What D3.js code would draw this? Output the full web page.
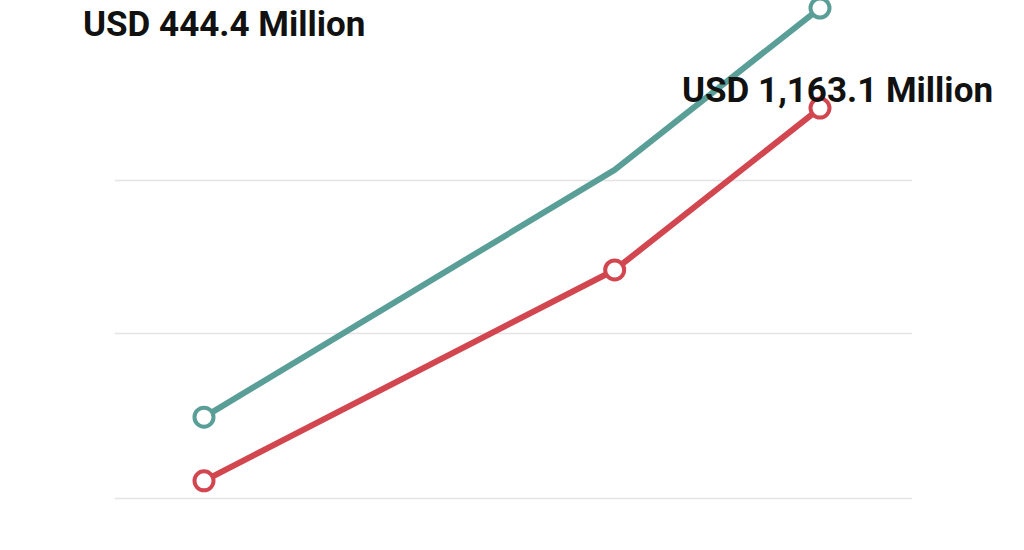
<!DOCTYPE html>
<html>
<head>
<meta charset="utf-8">
<script src="https://cdn.jsdelivr.net/npm/d3@7"></script>
<style>
  html, body { margin: 0; padding: 0; background: #ffffff; }
  svg { display: block; }
</style>
</head>
<body>
<div id="chart"></div>
<script>
// ---- data ----
const years = [2024, 2028, 2030];
const seriesTeal = [245, 1033, 1562];
const seriesRed = [52, 706, 1235];
const gridValues = [0, 500, 1000];
const labelTexts = ["USD 444.4 Million", "USD 1,163.1 Million"];

const W = 1024, H = 550;
const colors = { teal: "#5a9e98", red: "#d2464f" };

const svg = d3.select("#chart").append("svg")
  .attr("width", W).attr("height", H);

const x = d3.scaleLinear().domain([years[0], years[years.length - 1]]).range([204, 820]);
const y = d3.scaleLinear().domain(gridValues).range([498, 333, 180]);

// gridlines
const yAxis = d3.axisLeft(y).tickValues(gridValues).tickSize(-797).tickFormat("");
const g = svg.append("g").attr("transform", "translate(115,0)").call(yAxis);
g.select(".domain").remove();
g.selectAll(".tick line").attr("stroke", "#e4e4e4").attr("stroke-width", 1.5);

const line = d3.line().x((d, i) => x(years[i])).y(d => y(d));

function drawSeries(vals, color, markerIdx) {
  svg.append("path").datum(vals)
    .attr("d", line)
    .attr("fill", "none")
    .attr("stroke", color)
    .attr("stroke-width", 6)
    .attr("stroke-linejoin", "round");
  svg.selectAll(null).data(markerIdx).enter().append("circle")
    .attr("cx", i => x(years[i]))
    .attr("cy", i => y(vals[i]))
    .attr("r", 9.5)
    .attr("fill", "#ffffff")
    .attr("stroke", color)
    .attr("stroke-width", 4);
}
drawSeries(seriesTeal, colors.teal, [0, 2]);
drawSeries(seriesRed, colors.red, [0, 1, 2]);

// labels
const labelPos = [[83, 36], [682, 102]];
svg.selectAll("text.lbl").data(labelTexts).enter().append("text")
  .attr("class", "lbl")
  .attr("x", (d, i) => labelPos[i][0])
  .attr("y", (d, i) => labelPos[i][1])
  .attr("font-family", "Roboto, sans-serif")
  .attr("font-weight", "bold")
  .attr("font-size", 35)
  .attr("fill", "#111111")
  .text(d => d);
</script>
</body>
</html>
